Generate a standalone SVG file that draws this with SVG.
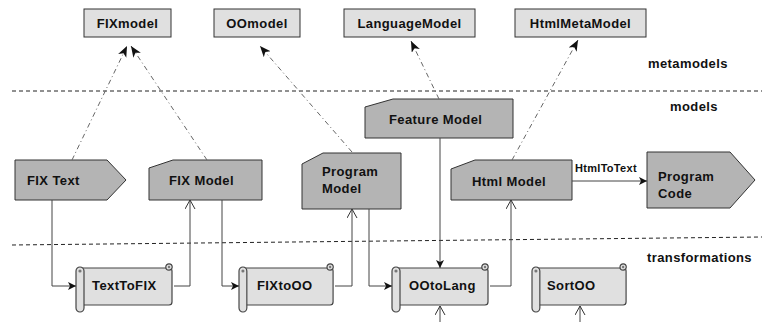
<svg xmlns="http://www.w3.org/2000/svg" width="763" height="322" viewBox="0 0 763 322">
<style>
text{font-family:"Liberation Sans",Arial,sans-serif;font-weight:bold;font-size:13px;fill:#111;letter-spacing:0.4px}
.meta{fill:#e0e0e0;stroke:#333;stroke-width:1}
.model{fill:#b4b4b4;stroke:#333;stroke-width:1}
.scroll{fill:#e0e0e0;stroke:#444;stroke-width:1.2}
.sep{stroke:#222;stroke-width:1;stroke-dasharray:4 3;fill:none}
.conn{stroke:#444;stroke-width:1;fill:none}
.inst{stroke:#666;stroke-width:1;fill:none;stroke-dasharray:5 3 1 3}
.lbl{font-size:11px;letter-spacing:0.3px}
</style>
<defs>
<marker id="filled" markerUnits="userSpaceOnUse" markerWidth="9" markerHeight="9" refX="8" refY="4" orient="auto">
<path d="M0,0 L8,4 L0,8 L2,4 z" fill="#111"/>
</marker>
<marker id="open" markerUnits="userSpaceOnUse" markerWidth="10" markerHeight="12" refX="9" refY="5" orient="auto">
<path d="M0,0 L9,5 L0,10" fill="none" stroke="#333" stroke-width="1"/>
</marker>
<marker id="inst" markerUnits="userSpaceOnUse" markerWidth="12" markerHeight="10" refX="11" refY="4.5" orient="auto">
<path d="M0,0 L11,4.5 L0,9 L3,4.5 z" fill="#111"/>
</marker>
<g id="scrollShape">
<rect class="scroll" x="4" y="4" width="92" height="37" rx="3"/>
<circle class="scroll" cx="93" cy="3" r="3.2"/>
<circle cx="93" cy="3" r="1.2" fill="#777"/>
<rect class="scroll" x="0" y="3" width="8" height="45" rx="4"/>
<circle cx="4" cy="7" r="1.6" fill="#777"/>
</g>
</defs>

<line class="sep" x1="12" y1="91" x2="762" y2="91"/>
<line class="sep" x1="12" y1="245" x2="762" y2="237"/>
<text x="648" y="68">metamodels</text>
<text x="670" y="111">models</text>
<text x="647" y="262">transformations</text>

<g id="FIXmodel"><rect class="meta" x="84" y="9" width="87" height="28"/><text x="127.5" y="28" text-anchor="middle">FIXmodel</text></g>
<g id="OOmodel"><rect class="meta" x="214" y="9" width="86" height="28"/><text x="257" y="28" text-anchor="middle">OOmodel</text></g>
<g id="LanguageModel"><rect class="meta" x="344" y="9" width="131" height="28"/><text x="409.5" y="28" text-anchor="middle">LanguageModel</text></g>
<g id="HtmlMetaModel"><rect class="meta" x="515" y="9" width="131" height="28"/><text x="580.5" y="28" text-anchor="middle">HtmlMetaModel</text></g>

<g id="FIXText"><polygon class="model" points="15,160 107,160 126,180 107,200 15,200"/><text x="27" y="185">FIX Text</text></g>
<g id="FIXModel"><polygon class="model" points="149,168 173,160 262,160 262,200 149,200"/><text x="169" y="185">FIX Model</text></g>
<g id="ProgramModel"><polygon class="model" points="302,164 323,153 401,153 401,209 302,209"/><text x="322" y="176">Program</text><text x="322" y="193">Model</text></g>
<g id="FeatureModel"><polygon class="model" points="365,107 393,99 513,99 513,138 365,138"/><text x="389" y="124">Feature Model</text></g>
<g id="HtmlModel"><polygon class="model" points="451,169 475,160 572,160 572,200 451,200"/><text x="472" y="186">Html Model</text></g>
<g id="ProgramCode"><polygon class="model" points="647,152 730,152 755,180 730,208 647,208"/><text x="658" y="181">Program</text><text x="658" y="198">Code</text></g>

<g id="TextToFIX"><use href="#scrollShape" transform="translate(76,264)"/><text x="92" y="290">TextToFIX</text></g>
<g id="FIXtoOO"><use href="#scrollShape" transform="translate(239,264) scale(0.98,1)"/><text x="257" y="290">FIXtoOO</text></g>
<g id="OOtoLang"><use href="#scrollShape" transform="translate(392,264)"/><text x="409" y="290">OOtoLang</text></g>
<g id="SortOO"><use href="#scrollShape" transform="translate(532,264) scale(0.98,1)"/><text x="547" y="290">SortOO</text></g>

<g id="connectors">
<polyline class="conn" points="52,200 52,286 76,286" marker-end="url(#filled)"/>
<polyline class="conn" points="174,286 190,286 190,200" marker-end="url(#open)"/>
<polyline class="conn" points="222,200 222,286 239,286" marker-end="url(#filled)"/>
<polyline class="conn" points="335,286 352,286 352,209" marker-end="url(#open)"/>
<polyline class="conn" points="369,209 369,286 392,286" marker-end="url(#filled)"/>
<line class="conn" x1="440" y1="138" x2="440" y2="268" marker-end="url(#filled)"/>
<polyline class="conn" points="490,286 511,286 511,200" marker-end="url(#open)"/>
<line class="conn" x1="440" y1="322" x2="440" y2="306" marker-end="url(#open)"/>
<line class="conn" x1="580" y1="322" x2="580" y2="306" marker-end="url(#open)"/>
<line class="conn" x1="572" y1="181" x2="647" y2="181" marker-end="url(#filled)"/>
<text class="lbl" x="575" y="172">HtmlToText</text>
<line class="inst" x1="72" y1="160" x2="127" y2="46" marker-end="url(#inst)"/>
<line class="inst" x1="207" y1="160" x2="131" y2="46" marker-end="url(#inst)"/>
<line class="inst" x1="352" y1="152" x2="260" y2="46" marker-end="url(#inst)"/>
<line class="inst" x1="439" y1="99" x2="411" y2="41" marker-end="url(#inst)"/>
<line class="inst" x1="512" y1="160" x2="578" y2="40" marker-end="url(#inst)"/>
</g>
</svg>
